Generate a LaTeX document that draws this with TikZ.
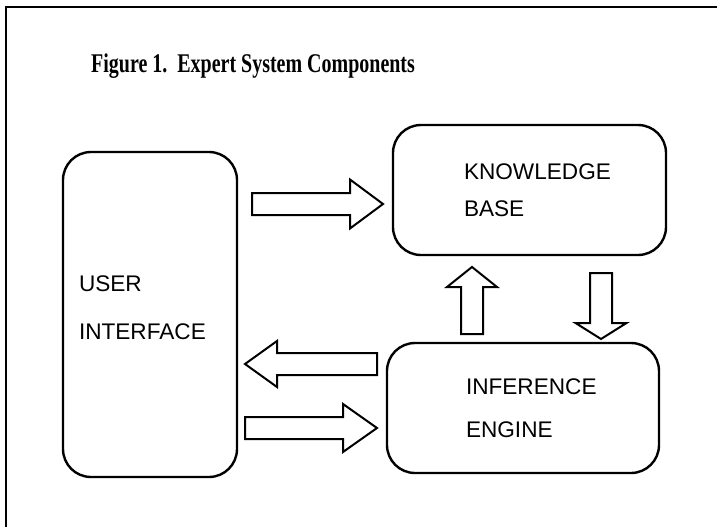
\documentclass[tikz,border=0pt]{standalone}
\usepackage{fontspec}
\newfontfamily\boxfont{Liberation Sans}
\newfontfamily\titlefont{Liberation Serif}[FakeStretch=0.74]
\usetikzlibrary{positioning}

\begin{document}
\begin{tikzpicture}[x=1pt, y=-1pt]

        % Setup the styles for the boxes and the arrows
        \tikzset{box style/.style={draw,
                                   rounded corners=28pt,
                                   line width=2.4pt,
                                   align=left,
                                   inner sep=0pt},
                 arrow line/.style={draw,
                                    line width=2pt,
                                    line join=miter,
                                    fill=white},
                 pics/block arrow/.style args={#1/#2/#3}{code={
                     \draw[arrow line] (0,-11) -- (#1-#2,-11) -- (#1-#2,-#3)
                         -- (#1,0) -- (#1-#2,#3) -- (#1-#2,11) -- (0,11) -- cycle;}}}

        \useasboundingbox (0,0) rectangle (717,527);

        % Draw the frame and the title
        \draw[line width=2.4pt] (6,527) -- (6,7) -- (717,7);
        \node[anchor=base west, inner sep=0pt, font=\titlefont\bfseries\fontsize{27}{32}\selectfont]
            at (91,72) (title) {Figure 1.\ \ Expert System Components};

        % Draw the boxes
        \node[box style, minimum width=174pt, minimum height=325pt, text width=142pt,
              text depth=61pt, font=\boxfont\fontsize{22.6}{48}\selectfont]
            at (150,314.5) (ui) {USER\\INTERFACE};
        \node[box style, minimum width=273pt, minimum height=130pt, text width=131pt,
              font=\boxfont\fontsize{22.6}{37}\selectfont]
            at (529.5,190) (kb) {KNOWLEDGE\\BASE};
        \node[box style, minimum width=272pt, minimum height=130pt, text width=114pt,
              font=\boxfont\fontsize{22.6}{43}\selectfont]
            at (523,408) (ie) {INFERENCE\\ENGINE};

        % Draw the block arrows
        \pic at (252,204) {block arrow=131/33/24.5};
        \pic[rotate=180] at (377,364) {block arrow=132/32/23};
        \pic at (245,428) {block arrow=132/34/24};
        \pic[rotate=90] at (472,334) {block arrow=67/20/25};
        \pic[rotate=-90] at (601,273) {block arrow=66/16/25.5};
    \end{tikzpicture}
\end{document}
